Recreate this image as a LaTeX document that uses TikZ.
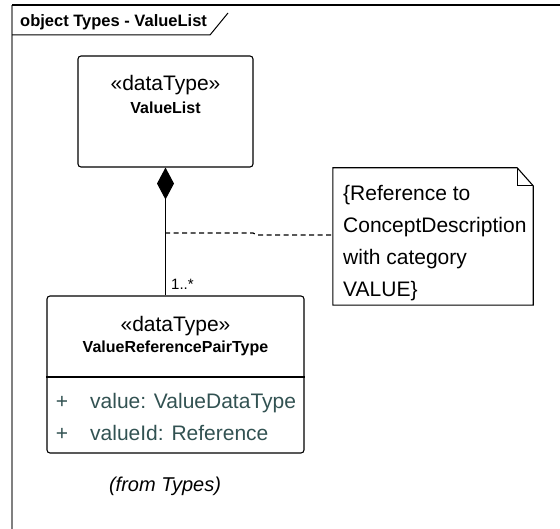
\documentclass[tikz,border=0pt]{standalone}
\usepackage{fontspec}
\setmainfont{Liberation Sans}
\usetikzlibrary{arrows.meta,calc}
\definecolor{attrcol}{RGB}{50,82,82}
\definecolor{framegrey}{RGB}{128,128,128}
\begin{document}
\begin{tikzpicture}[x=1pt,y=-1pt,
  umlbox/.style={draw=black, line width=1.1pt, rounded corners=3pt, inner sep=0pt},
  lbl/.style={inner sep=0pt, anchor=base},
  reg/.style={font=\fontsize{21}{25}\selectfont},
  bld/.style={font=\fontsize{16}{19}\bfseries\selectfont},
  attr/.style={lbl, reg, text=attrcol},
  conn/.style={line width=1.1pt, draw=black}]
\useasboundingbox (0,0) rectangle (560,529);
% frame
\draw[framegrey, line width=1.8pt] (12,5) -- (12,529);
\draw[black, line width=1.3pt] (12,5) -- (560,5);
\draw[black, line width=1pt] (12,35) -- (210,35) -- (228,13);
\node[lbl, anchor=base west, font=\fontsize{16.5}{19}\bfseries\selectfont] (title) at (20,27) {object Types - ValueList};
% ValueList box
\node[umlbox, minimum width=175, minimum height=111] (vl) at (165.5,111.5) {};
\node[lbl, reg] (vlst) at (165.5,91) {«dataType»};
\node[lbl, bld] (vlname) at (165.5,114) {ValueList};
% ValueReferencePairType box
\node[umlbox, minimum width=257, minimum height=157] (vrp) at (175.5,374.5) {};
\draw[line width=1.1pt] (vrp.west |- 0,377) -- (vrp.east |- 0,377);
\node[lbl, reg] (vrpst) at (175.5,332) {«dataType»};
\node[lbl, bld] (vrpname) at (175.5,353) {ValueReferencePairType};
\node[attr] (p1) at (62,409) {+};
\node[attr, anchor=base west] (a1) at (90,409) {value: ValueDataType};
\node[attr] (p2) at (62,441) {+};
\node[attr, anchor=base west] (a2) at (90,441) {valueId: Reference};
\node[lbl, font=\fontsize{20}{24}\itshape\selectfont] (from) at (165,491) {(from Types)};
% composition
\draw[conn, -{Diamond[length=32pt,width=17pt]}] (vl.south |- vrp.north) -- (vl.south);
\node[lbl, anchor=base west, font=\fontsize{15}{18}\selectfont] (mult) at (171,290) {1..*};
% note
\node[minimum width=200, minimum height=137, inner sep=0pt] (note) at (433,236.5) {};
\draw[line width=1.1pt] (note.north west) -- ($(note.north east)+(-16,0)$) -- ($(note.north east)+(0,18)$) -- (note.south east) -- (note.south west) -- cycle;
\draw[line width=0.9pt] ($(note.north east)+(-16,0)$) -- ($(note.north east)+(-16,18)$) -- ($(note.north east)+(0,18)$);
\node[lbl, reg, anchor=base west] (n1) at (343,201) {\{Reference to};
\node[lbl, reg, anchor=base west] (n2) at (343,233) {ConceptDescription};
\node[lbl, reg, anchor=base west] (n3) at (343,265) {with category};
\node[lbl, reg, anchor=base west] (n4) at (343,297) {VALUE\}};
% note link
\coordinate (dj) at (165,233);
\coordinate (dk) at (253,233);
\coordinate (dl) at (257,235);
\draw[black, line width=1.2pt, dash pattern=on 5pt off 3.5pt] (dj) -- (dk) -- (dl) -- (note.west |- dl);
\end{tikzpicture}
\end{document}
